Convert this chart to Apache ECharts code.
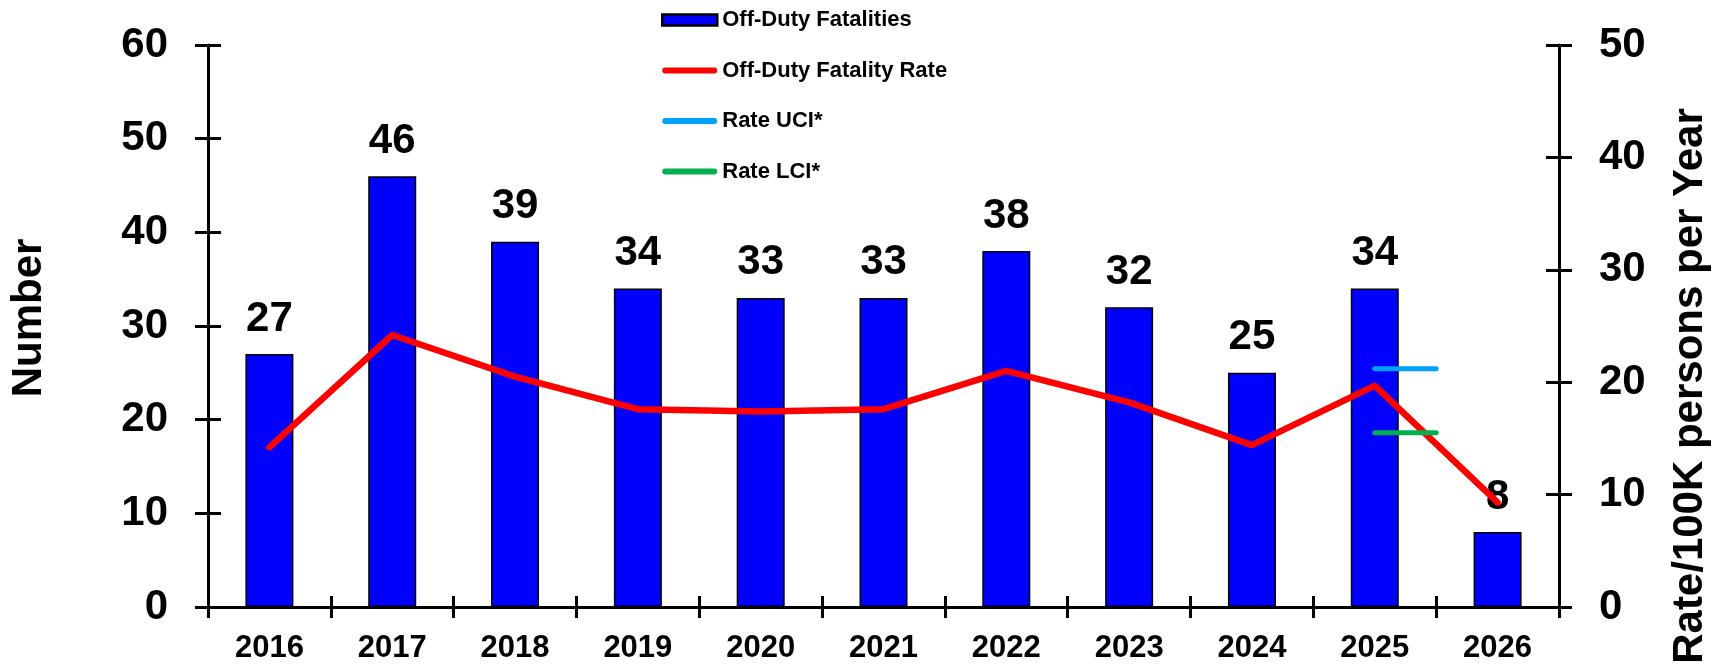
<!DOCTYPE html>
<html>
<head>
<meta charset="utf-8">
<script src="https://cdn.jsdelivr.net/npm/echarts@6/dist/echarts.min.js"></script>
<style>
  html, body { margin: 0; padding: 0; background: #fff; }
  #chart { width: 1731px; height: 668px; }
</style>
</head>
<body>
<div id="chart"></div>
<script>
// Off-duty fatalities per year (left axis) and fatality rate per 100K (right axis)
const years = ['2016', '2017', '2018', '2019', '2020', '2021', '2022', '2023', '2024', '2025', '2026'];
const fatalities = [27, 46, 39, 34, 33, 33, 38, 32, 25, 34, 8];
const fatalityRate = [14.2, 24.2, 20.5, 17.6, 17.4, 17.6, 21.0, 18.2, 14.4, 19.7, 9.3];

// Confidence interval of the rate, shown for one year
const ciYear = '2025';
const rateUCI = 21.2;
const rateLCI = 15.5;

// Axis ranges: [min, max, interval]
const countAxis = [0, 60, 10];
const rateAxis = [0, 50, 10];

const FONT = '"Liberation Sans", Arial, sans-serif';
const ciIndex = years.indexOf(ciYear);
const ciSpan = [ciIndex, ciIndex + 0.5];

// Thick line with rounded ends, used as legend icon for the line series
const LINE_ICON = 'path://M3,0 H52 A3,3 0 0 1 52,6 H3 A3,3 0 0 1 3,0 Z';

const chart = echarts.init(document.getElementById('chart'), null, { renderer: 'canvas' });

const axisLine = { show: true, onZero: false, lineStyle: { color: '#000', width: 3 } };
const tickStyle = { color: '#000', width: 3 };

function yAxisMain(range, pos, name, nameGap, namePadding) {
  return {
    type: 'value', position: pos, min: range[0], max: range[1], interval: range[2],
    axisLine: axisLine,
    axisTick: { show: true, inside: false, length: 13, lineStyle: tickStyle },
    axisLabel: { show: true, margin: 40, color: '#000', fontFamily: FONT, fontWeight: 'bold', fontSize: 42 },
    splitLine: { show: false },
    name: name, nameLocation: 'middle', nameGap: nameGap,
    nameTextStyle: { color: '#000', fontFamily: FONT, fontWeight: 'bold', fontSize: 42, padding: namePadding }
  };
}

// Mirror axes supply the inner half of the crossing tick marks
function yAxisMirror(range, pos) {
  return {
    type: 'value', position: pos, min: range[0], max: range[1], interval: range[2],
    axisLine: { show: false, onZero: false },
    axisTick: { show: true, inside: true, length: 13, lineStyle: tickStyle },
    axisLabel: { show: false },
    splitLine: { show: false }
  };
}

chart.setOption({
  animation: false,
  backgroundColor: '#fff',
  grid: { left: 207, right: 172, top: 45, bottom: 61, containLabel: false },
  legend: {
    orient: 'vertical', left: 661, top: 9, padding: 0,
    itemWidth: 55, itemHeight: 11, itemGap: 28.5,
    selectedMode: false,
    textStyle: { color: '#000', fontFamily: FONT, fontWeight: 'bold', fontSize: 22 },
    data: [
      { name: 'Off-Duty Fatalities', icon: 'rect', itemStyle: { borderColor: '#000', borderWidth: 2.5 } },
      { name: 'Off-Duty Fatality Rate', icon: LINE_ICON },
      { name: 'Rate UCI*', icon: LINE_ICON },
      { name: 'Rate LCI*', icon: LINE_ICON }
    ]
  },
  xAxis: [
    {
      type: 'category', data: years, position: 'bottom',
      axisLine: axisLine,
      axisTick: { show: true, inside: false, length: 11, lineStyle: tickStyle },
      axisLabel: { margin: 26, color: '#000', fontFamily: FONT, fontWeight: 'bold', fontSize: 31 }
    },
    {
      type: 'category', data: years, position: 'bottom',
      axisLine: { show: false, onZero: false },
      axisTick: { show: true, inside: true, length: 11, lineStyle: tickStyle },
      axisLabel: { show: false }
    },
    {
      type: 'value', min: -0.5, max: years.length - 0.5, show: false,
      axisLine: { onZero: false }
    }
  ],
  yAxis: [
    yAxisMain(countAxis, 'left', 'Number', 158, [0, 0, 0, 16]),
    yAxisMain(rateAxis, 'right', 'Rate/100K persons per Year', 110, [0, 120, 0, 0]),
    yAxisMirror(countAxis, 'left'),
    yAxisMirror(rateAxis, 'right')
  ],
  series: [
    {
      name: 'Off-Duty Fatalities', type: 'bar', xAxisIndex: 0, yAxisIndex: 0,
      data: fatalities, barWidth: 48,
      itemStyle: { color: '#0000FF', borderColor: '#000', borderWidth: 1.5 },
      label: {
        show: true, position: 'top', distance: 14,
        color: '#000', fontFamily: FONT, fontWeight: 'bold', fontSize: 42
      },
      z: 2
    },
    {
      name: 'Off-Duty Fatality Rate', type: 'line', xAxisIndex: 0, yAxisIndex: 1,
      data: fatalityRate, symbol: 'none',
      lineStyle: { color: '#FF0000', width: 6.5, cap: 'round' },
      itemStyle: { color: '#FF0000' },
      z: 3
    },
    {
      name: 'Rate UCI*', type: 'line', xAxisIndex: 2, yAxisIndex: 1,
      data: ciSpan.map(x => [x, rateUCI]), symbol: 'none',
      lineStyle: { color: '#00A2FF', width: 5, cap: 'round' },
      itemStyle: { color: '#00A2FF' },
      z: 3
    },
    {
      name: 'Rate LCI*', type: 'line', xAxisIndex: 2, yAxisIndex: 1,
      data: ciSpan.map(x => [x, rateLCI]), symbol: 'none',
      lineStyle: { color: '#00B050', width: 5, cap: 'round' },
      itemStyle: { color: '#00B050' },
      z: 3
    }
  ]
});
</script>
</body>
</html>
